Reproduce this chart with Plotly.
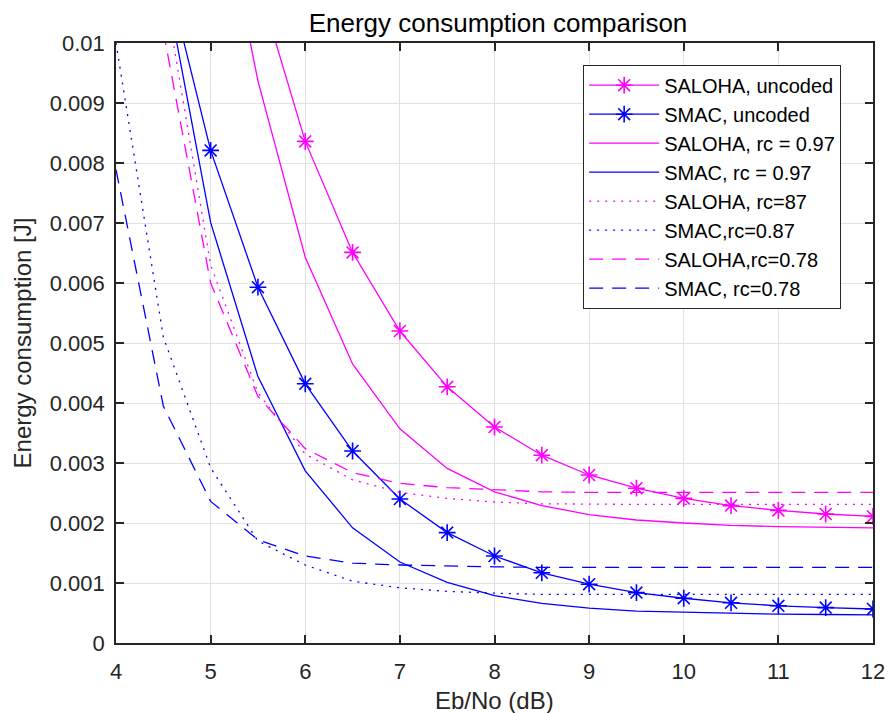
import plotly.graph_objects as go

# Eb/No (dB)
ebno = [4, 4.5, 5, 5.5, 6, 6.5, 7, 7.5, 8, 8.5, 9, 9.5, 10, 10.5, 11, 11.5, 12]

# Energy consumption [J] (None = far above the visible range)
saloha_uncoded = [None, None, None, 0.0110, 0.00836, 0.00651, 0.00520, 0.00427, 0.00360, 0.00313,
                  0.00280, 0.00258, 0.00241, 0.00229, 0.00221, 0.00215, 0.00211]
smac_uncoded = [None, 0.0114, 0.00821, 0.00593, 0.00432, 0.00320, 0.00240, 0.00184, 0.00145, 0.00117,
                0.00098, 0.00084, 0.000746, 0.00067, 0.00062, 0.00059, 0.000567]
saloha_097 = [None, None, 0.0133, 0.00937, 0.00643, 0.00465, 0.00357, 0.00291, 0.00252, 0.00229,
              0.00214, 0.00205, 0.00200, 0.00196, 0.00194, 0.00193, 0.00192]
smac_097 = [None, 0.0112, 0.00701, 0.00444, 0.00287, 0.00192, 0.00135, 0.00101, 0.00079, 0.00066,
            0.00058, 0.00053, 0.00051, 0.00050, 0.00048, 0.000475, 0.00047]
saloha_087 = [None, 0.0110, 0.0063, 0.00417, 0.00315, 0.00272, 0.00251, 0.00241, 0.00235, 0.00232,
              0.00231, 0.00231, 0.00231, 0.00231, 0.00231, 0.00231, 0.00231]
smac_087 = [0.0100, 0.0051, 0.00292, 0.00170, 0.00130, 0.00103, 0.00092, 0.00086, 0.00083, 0.00081,
            0.00081, 0.00081, 0.00081, 0.00081, 0.00081, 0.00081, 0.00081]
saloha_078 = [None, 0.0102, 0.0060, 0.00411, 0.00324, 0.00284, 0.00266, 0.00259, 0.00255, 0.00252,
              0.00251, 0.00251, 0.00251, 0.00251, 0.00251, 0.00251, 0.00251]
smac_078 = [0.00789, 0.00395, 0.00236, 0.00172, 0.00145, 0.00133, 0.00130, 0.00128, 0.00127, 0.00126,
            0.00126, 0.00126, 0.00126, 0.00126, 0.00126, 0.00126, 0.00126]

x_ticks = [4, 5, 6, 7, 8, 9, 10, 11, 12]
y_ticks = [0, 0.001, 0.002, 0.003, 0.004, 0.005, 0.006, 0.007, 0.008, 0.009, 0.01]
y_tick_text = ["0", "0.001", "0.002", "0.003", "0.004", "0.005", "0.006", "0.007", "0.008", "0.009", "0.01"]

MAG = "#FF00FF"
BLU = "#0000FF"
DASH = "14px,9px"
DOT = "2px,6px"
FONT = "Liberation Sans, Arial, sans-serif"
INK = "#262626"

series = [
    ("SALOHA, uncoded", saloha_uncoded, MAG, "solid", True),
    ("SMAC, uncoded", smac_uncoded, BLU, "solid", True),
    ("SALOHA, rc = 0.97", saloha_097, MAG, "solid", False),
    ("SMAC, rc = 0.97", smac_097, BLU, "solid", False),
    ("SALOHA, rc=87", saloha_087, MAG, DOT, False),
    ("SMAC,rc=0.87", smac_087, BLU, DOT, False),
    ("SALOHA,rc=0.78", saloha_078, MAG, DASH, False),
    ("SMAC, rc=0.78", smac_078, BLU, DASH, False),
]

fig = go.Figure()
for i, (name, ys, col, dash, mk) in enumerate(series):
    fig.add_trace(go.Scatter(
        x=ebno, y=ys, name=name, legendgroup=f"g{i}",
        mode="lines+markers" if mk else "lines",
        line=dict(color=col, width=1.3, dash=dash),
        marker=dict(symbol="asterisk-open", size=14, color=col,
                    line=dict(color=col, width=1.6)) if mk else None,
        connectgaps=False,
    ))

L, R, T, B = 115.6, 15, 43.3, 70
fig.update_layout(
    width=888, height=713, autosize=False,
    margin=dict(l=L, r=R, t=T, b=B, pad=0, autoexpand=False),
    paper_bgcolor="white", plot_bgcolor="white",
    font=dict(family=FONT, color=INK, size=22),
    title=dict(text="Energy consumption comparison", x=498/888, xanchor="center",
               y=1 - 23/713, yanchor="middle", xref="container", yref="container",
               font=dict(size=26, color="black", family=FONT)),
    showlegend=True,
    legend=dict(x=(583 - L)/757.4, y=(643 - 65)/599.7, xanchor="left", yanchor="top",
                bgcolor="white", bordercolor=INK, borderwidth=1,
                font=dict(size=20, color="black", family=FONT),
                itemwidth=70, tracegroupgap=1.5, traceorder="normal"),
    xaxis=dict(range=[4, 12], tickvals=x_ticks, ticktext=[str(v) for v in x_ticks],
               automargin=False,
               showgrid=True, gridcolor="#e1e1e1", gridwidth=1,
               showline=True, linecolor=INK, linewidth=1.6, mirror="ticks",
               ticks="inside", ticklen=8, tickwidth=1.5, tickcolor=INK,
               tickfont=dict(size=22, color=INK), ticklabelstandoff=8, zeroline=False),
    yaxis=dict(range=[0, 0.01], tickvals=y_ticks, ticktext=y_tick_text,
               automargin=False,
               showgrid=True, gridcolor="#e1e1e1", gridwidth=1,
               showline=True, linecolor=INK, linewidth=1.6, mirror="ticks",
               ticks="inside", ticklen=8, tickwidth=1.5, tickcolor=INK,
               tickfont=dict(size=22, color=INK), ticklabelstandoff=5, zeroline=False),
    annotations=[
        dict(text="Eb/No (dB)", xref="paper", yref="paper", x=(494 - L)/757.4,
             y=(643 - 700)/599.7, xanchor="center", yanchor="middle", showarrow=False,
             font=dict(size=24, color=INK, family=FONT)),
        dict(text="Energy consumption [J]", xref="paper", yref="paper", x=(22 - L)/757.4,
             y=0.5, xanchor="center", yanchor="middle", textangle=-90, showarrow=False,
             font=dict(size=24, color=INK, family=FONT)),
    ],
)

fig.write_html(
    "out.html",
    config={"displayModeBar": False, "responsive": False},
    post_script="document.body.style.margin='0';document.body.style.padding='0';"
                "document.body.style.overflow='hidden';",
)
